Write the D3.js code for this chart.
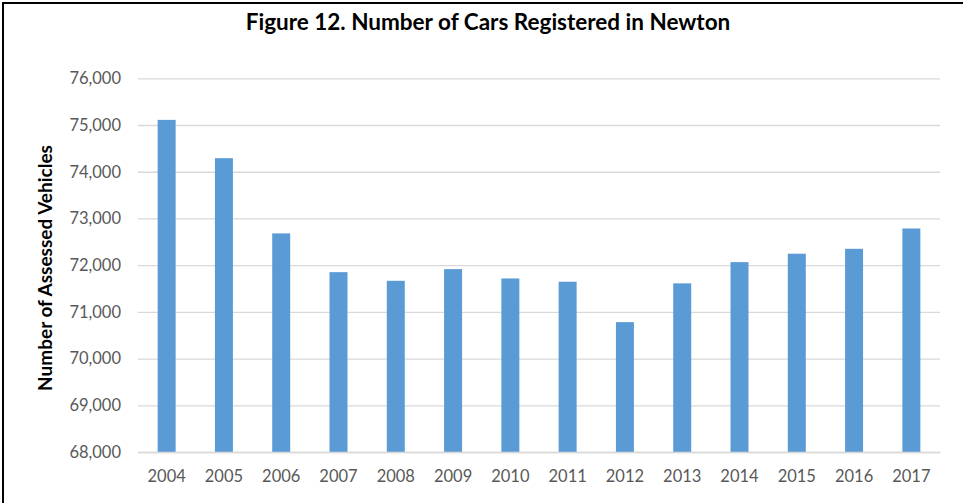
<!DOCTYPE html>
<html><head><meta charset="utf-8">
<script src="https://cdn.jsdelivr.net/npm/d3@7"></script>
<style>
html,body{margin:0;padding:0;background:#fff;}
svg{display:block;}
</style></head>
<body>
<script>
const years = ["2004","2005","2006","2007","2008","2009","2010","2011","2012","2013","2014","2015","2016","2017"];
const vehicles = [75110, 74290, 72680, 71850, 71665, 71915, 71715, 71645, 70780, 71610, 72065, 72245, 72350, 72785];
const yTicks = [68000, 69000, 70000, 71000, 72000, 73000, 74000, 75000, 76000];
const title = "Figure 12. Number of Cars Registered in Newton";
const yTitle = "Number of Assessed Vehicles";

const W = 963, H = 503;
const svg = d3.select("body").append("svg").attr("width", W).attr("height", H);
const font = "Lato, 'Open Sans', 'Liberation Sans', sans-serif";

// frame
svg.append("path").attr("d", "M3,503 L3,3 L963,3").attr("fill","none").attr("stroke","#000").attr("stroke-width",2);

const m = {left:138, right:940, top:78.3, bottom:452};
const x = d3.scaleBand().domain(years).range([m.left, m.right]).paddingInner(0.686).paddingOuter(0.343);
const y = d3.scaleLinear().domain([68000, 76000]).range([m.bottom, m.top]);

// gridlines
const yAxis = d3.axisLeft(y).tickValues(yTicks).tickSize(-(m.right - m.left)).tickPadding(17)
  .tickFormat(d3.format(","));
const gy = svg.append("g").attr("transform", `translate(${m.left},0)`).call(yAxis);
gy.select(".domain").remove();
gy.selectAll(".tick line").attr("stroke", "#d9d9d9").attr("stroke-width", 1.3);
gy.selectAll(".tick text").attr("fill", "#595959").style("font-family", font).style("font-size", "16.5px");

// bars
svg.append("g").selectAll("rect").data(years).join("rect")
  .attr("x", d => x(d))
  .attr("width", x.bandwidth())
  .attr("y", (d,i) => y(vehicles[i]))
  .attr("height", (d,i) => y(68000) - y(vehicles[i]))
  .attr("fill", "#5b9bd5");

// x axis
const xAxis = d3.axisBottom(x).tickSize(0).tickPadding(18);
const gx = svg.append("g").attr("transform", `translate(0,${m.bottom})`).call(xAxis);
gx.select(".domain").attr("stroke", "#d9d9d9").attr("stroke-width", 1.3);
gx.selectAll(".tick text").attr("fill", "#595959").style("font-family", font).style("font-size", "16.5px");

// title
svg.append("text").attr("x", 488).attr("y", 30).attr("text-anchor","middle")
  .style("font-family", font).style("font-weight","bold").style("font-size","22.5px").attr("fill","#000")
  .text(title);

// y title
svg.append("text").attr("transform", "translate(52,268) rotate(-90)").attr("text-anchor","middle")
  .style("font-family", font).style("font-weight","bold").style("font-size","19px").attr("fill","#000")
  .text(yTitle);
</script>
</body></html>
